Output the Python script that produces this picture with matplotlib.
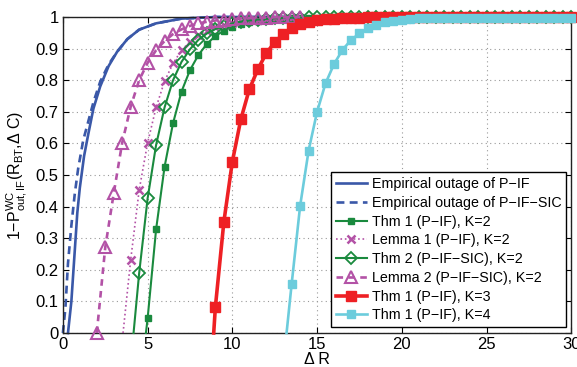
import numpy as np
import matplotlib
matplotlib.use("Agg")
import matplotlib.pyplot as plt

plt.rcParams['font.family'] = ['Liberation Sans', 'DejaVu Sans']
plt.rcParams['mathtext.fontset'] = 'custom'
plt.rcParams['mathtext.rm'] = 'Liberation Sans'
plt.rcParams['mathtext.it'] = 'Liberation Sans:italic'

# ---- data ----
# Empirical curves (smooth)
emp_if_x = [0.3, 0.5, 0.7, 0.85, 1.0, 1.25, 1.5, 1.8, 2.2, 2.7, 3.2, 3.8, 4.5, 5.5, 7.0, 9.0, 30.0]
emp_if_y = [0.0, 0.10, 0.26, 0.38, 0.46, 0.56, 0.63, 0.71, 0.78, 0.845, 0.89, 0.93, 0.96, 0.98, 0.995, 1.0, 1.0]
emp_sic_x = [0.0, 0.15, 0.3, 0.5, 0.7, 0.9, 1.2, 1.5, 1.8, 2.2, 2.7, 3.2, 3.8, 4.5, 5.5, 7.0, 9.0, 30.0]
emp_sic_y = [0.0, 0.08, 0.22, 0.34, 0.44, 0.52, 0.61, 0.67, 0.73, 0.795, 0.85, 0.89, 0.93, 0.96, 0.98, 0.995, 1.0, 1.0]

# Thm 1 (P-IF), K=2  (start point + markers every 0.5 from 5 to 30)
thm1k2_start = 4.9
thm1k2_x = np.arange(5.0, 30.01, 0.5)
thm1k2_y = [0.046, 0.328, 0.526, 0.664, 0.764, 0.832, 0.880, 0.915, 0.940, 0.957,
            0.969, 0.978, 0.984, 0.988, 0.991, 0.994, 0.995, 0.996, 0.997, 0.998,
            0.998, 0.999, 0.999, 0.999, 0.999, 0.999, 1.0, 1.0, 1.0, 1.0,
            1.0, 1.0, 1.0, 1.0, 1.0, 1.0, 1.0, 1.0, 1.0, 1.0,
            1.0, 1.0, 1.0, 1.0, 1.0, 1.0, 1.0, 1.0, 1.0, 1.0, 1.0]

# Lemma 1 (P-IF), K=2
lem1_start = 3.55
lem1_x = np.arange(4.0, 14.01, 0.5)
lem1_y = [0.231, 0.452, 0.602, 0.714, 0.797, 0.853, 0.895, 0.922, 0.942, 0.957,
          0.968, 0.976, 0.982, 0.987, 0.990, 0.992, 0.994, 0.996, 0.997, 0.998, 0.998]

# Thm 2 (P-IF-SIC), K=2
thm2_start = 4.17
thm2_x = np.arange(4.5, 30.01, 0.5)
thm2_y = [0.189, 0.426, 0.595, 0.714, 0.800, 0.858, 0.898, 0.928, 0.948, 0.962,
          0.972, 0.980, 0.985, 0.989, 0.992, 0.994, 0.996, 0.997, 0.998, 0.998,
          0.999, 0.999, 0.999, 1.0, 1.0, 1.0, 1.0, 1.0, 1.0, 1.0,
          1.0, 1.0, 1.0, 1.0, 1.0, 1.0, 1.0, 1.0, 1.0, 1.0,
          1.0, 1.0, 1.0, 1.0, 1.0, 1.0, 1.0, 1.0, 1.0, 1.0, 1.0, 1.0]

# Lemma 2 (P-IF-SIC), K=2
lem2_x = np.arange(2.0, 14.01, 0.5)
lem2_y = [0.0, 0.271, 0.442, 0.602, 0.716, 0.800, 0.855, 0.895, 0.924, 0.946,
          0.961, 0.972, 0.980, 0.985, 0.989, 0.992, 0.994, 0.996, 0.997, 0.998,
          0.998, 0.999, 0.999, 0.999, 1.0]

# Thm 1 (P-IF), K=3
thm1k3_start = 8.9
thm1k3_x = np.arange(9.0, 30.01, 0.5)
thm1k3_y = [0.083, 0.352, 0.542, 0.676, 0.771, 0.834, 0.885, 0.920, 0.946, 0.964,
            0.977, 0.985, 0.990, 0.993, 0.995, 0.997, 0.998, 0.998, 0.999, 0.999,
            0.999, 1.0, 1.0, 1.0, 1.0, 1.0, 1.0, 1.0, 1.0, 1.0,
            1.0, 1.0, 1.0, 1.0, 1.0, 1.0, 1.0, 1.0, 1.0, 1.0,
            1.0, 1.0, 1.0]

# Thm 1 (P-IF), K=4
thm1k4_start = 13.2
thm1k4_x = np.arange(13.5, 30.01, 0.5)
thm1k4_y = [0.155, 0.402, 0.577, 0.700, 0.790, 0.851, 0.896, 0.927, 0.948, 0.964,
            0.975, 0.983, 0.988, 0.992, 0.994, 0.996, 0.997, 0.997, 0.998, 0.998,
            0.998, 0.998, 0.998, 0.998, 0.998, 0.998, 0.998, 0.998, 0.998, 0.998,
            0.998, 0.998, 0.998, 0.998]

labels = ["Empirical outage of P\u2212IF",
          "Empirical outage of P\u2212IF\u2212SIC",
          "Thm 1 (P\u2212IF), K=2",
          "Lemma 1 (P\u2212IF), K=2",
          "Thm 2 (P\u2212IF\u2212SIC), K=2",
          "Lemma 2 (P\u2212IF\u2212SIC), K=2",
          "Thm 1 (P\u2212IF), K=3",
          "Thm 1 (P\u2212IF), K=4"]

blue = '#3a58a8'
green = '#1a8a3e'
magenta = '#b352a6'
red = '#ee2024'
cyan = '#6cccdc'

fig = plt.figure(figsize=(5.77, 3.67), dpi=100)
ax = fig.add_axes([0.109, 0.0926, 0.881, 0.861])

def withstart(s, xs, ys):
    return [s] + list(xs), [0.0] + list(ys)

ax.plot(emp_if_x, emp_if_y, '-', color=blue, lw=1.9, label=labels[0], clip_on=False)
ax.plot(emp_sic_x, emp_sic_y, '--', color=blue, lw=1.9, dashes=(3, 2), label=labels[1], clip_on=False)

x, y = withstart(thm1k2_start, thm1k2_x, thm1k2_y)
ax.plot(x, y, '-', color=green, lw=1.5, marker='s', ms=4.2, mfc=green, mec=green,
        markevery=slice(1, None), label=labels[2], clip_on=False, zorder=3)

x, y = withstart(lem1_start, lem1_x, lem1_y)
ax.plot(x, y, ':', color=magenta, lw=1.2, marker='x', ms=5.5, mew=1.8,
        markevery=slice(1, None), label=labels[3], clip_on=False, zorder=3)

x, y = withstart(thm2_start, thm2_x, thm2_y)
ax.plot(x, y, '-', color=green, lw=1.5, marker='D', ms=6, mfc='none', mec=green, mew=1.3,
        markevery=slice(1, None), label=labels[4], clip_on=False, zorder=3)

ax.plot(lem2_x, lem2_y, '--', color=magenta, lw=1.9, dashes=(2.5, 2), marker='^', ms=8.5,
        mfc='none', mec=magenta, mew=1.5, label=labels[5], clip_on=False, zorder=3)

x, y = withstart(thm1k3_start, thm1k3_x, thm1k3_y)
ax.plot(x, y, '-', color=red, lw=2.6, marker='s', ms=6.5, mfc=red, mec=red,
        markevery=slice(1, None), label=labels[6], clip_on=False, zorder=3)

x, y = withstart(thm1k4_start, thm1k4_x, thm1k4_y)
ax.plot(x, y, '-', color=cyan, lw=1.9, marker='s', ms=5.2, mfc=cyan, mec=cyan,
        markevery=slice(1, None), label=labels[7], clip_on=False, zorder=3)

ax.set_xlim(0, 30)
ax.set_ylim(0, 1)
ax.set_xticks(np.arange(0, 31, 5))
ax.set_yticks(np.arange(0, 1.01, 0.1))
ax.set_yticklabels(['0', '0.1', '0.2', '0.3', '0.4', '0.5', '0.6', '0.7', '0.8', '0.9', '1'])
ax.tick_params(direction='in', top=True, right=True, labelsize=12, length=4, width=0.8, pad=3)
ax.grid(True, linestyle=(0, (1, 3)), color='#999999', lw=0.8)
for s in ax.spines.values():
    s.set_linewidth(1.0)
    s.set_color('#222222')

ax.set_xlabel('\u0394 R', fontsize=11.5, labelpad=0)
ax.set_ylabel(r'1$-$P$^{\rm WC}_{\rm out,IF}$(R$_{\rm BT}$,$\Delta$ C)', fontsize=11.5, labelpad=5)

leg = ax.legend(loc='lower right', bbox_to_anchor=(0.99, 0.018), fontsize=10.3,
                frameon=True, fancybox=False, edgecolor='black', framealpha=1,
                handlelength=2.2, handletextpad=0.3, borderpad=0.35, labelspacing=0.33,
                borderaxespad=0)
leg.get_frame().set_linewidth(1.0)

fig.savefig('out.png', dpi=100)
